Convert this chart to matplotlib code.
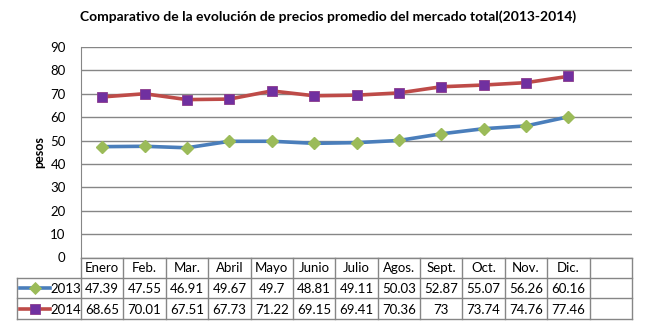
import matplotlib.pyplot as plt
from matplotlib.lines import Line2D

plt.rcParams['font.family'] = ['Lato', 'DejaVu Sans']

# DATA

meses = ["Enero", "Feb.", "Mar.", "Abril", "Mayo", "Junio", "Julio",
         "Agos.", "Sept.", "Oct.", "Nov.", "Dic."]
precios_2013 = [47.39, 47.55, 46.91, 49.67, 49.7, 48.81, 49.11,
                50.03, 52.87, 55.07, 56.26, 60.16]
precios_2014 = [68.65, 70.01, 67.51, 67.73, 71.22, 69.15, 69.41,
                70.36, 73, 73.74, 74.76, 77.46]
etiquetas_2013 = ["47.39", "47.55", "46.91", "49.67", "49.7", "48.81", "49.11",
                  "50.03", "52.87", "55.07", "56.26", "60.16"]
etiquetas_2014 = ["68.65", "70.01", "67.51", "67.73", "71.22", "69.15", "69.41",
                  "70.36", "73", "73.74", "74.76", "77.46"]
yticks = [0, 10, 20, 30, 40, 50, 60, 70, 80, 90]

W, H = 653, 324
grey = "#868686"
c13_line, c13_mark = "#4A7EBB", "#9BBB59"
c14_line, c14_mark = "#BE4B48", "#7030A0"

fig = plt.figure(figsize=(W / 100, H / 100), dpi=100)

# plot area (pixels)
left, right, top, bottom = 81, 632, 47, 257.5
ax = fig.add_axes([left / W, 1 - bottom / H, (right - left) / W, (bottom - top) / H])
n = len(meses) + 1  # extra empty column like the excel table
x = list(range(len(meses)))

ax.plot(x, precios_2013, color=c13_line, lw=2.6, marker="D", ms=6.5,
        mfc=c13_mark, mec=c13_mark, zorder=3)
ax.plot(x, precios_2014, color=c14_line, lw=2.6, marker="s", ms=7.5,
        mfc=c14_mark, mec="#8B3A8B", mew=0.6, zorder=3)

ax.set_xlim(-0.5, n - 0.5)
ax.set_ylim(0, 90)
ax.set_yticks(yticks)
ax.set_xticks([])
ax.grid(axis="y", color=grey, lw=1)
ax.set_axisbelow(True)
for s in ["top", "right", "bottom"]:
    ax.spines[s].set_visible(False)
ax.spines["left"].set_color(grey)
ax.tick_params(axis="y", length=0, pad=11, labelsize=9.5, colors="#000000")
ax.set_ylabel("pesos", fontsize=9, fontweight="bold", labelpad=4)

fig.text(328 / W, 1 - 17 / H, "Comparativo de la evolución de precios promedio del mercado total(2013-2014)",
         ha="center", va="center", fontsize=10, fontweight="bold")

# DATA TABLE (drawn in pixel coordinates)
tab = fig.add_axes([0, 0, 1, 1])
tab.set_xlim(0, W)
tab.set_ylim(H, 0)
tab.axis("off")

col_w = (right - left) / n
rows_y = [257.5, 277.5, 298, 319]
tab_left = 17

# horizontal lines
tab.plot([left, right], [rows_y[0], rows_y[0]], color=grey, lw=1)
for yy in rows_y[1:]:
    tab.plot([tab_left, right], [yy, yy], color=grey, lw=1)
# vertical lines
tab.plot([tab_left, tab_left], [rows_y[1], rows_y[3]], color=grey, lw=1)
for i in range(n + 1):
    xx = left + i * col_w
    tab.plot([xx, xx], [rows_y[0], rows_y[3]], color=grey, lw=1)

fs = 9.5
for i, m in enumerate(meses):
    cx = left + (i + 0.5) * col_w
    tab.text(cx, (rows_y[0] + rows_y[1]) / 2 + 1, m, ha="center", va="center", fontsize=fs)
    tab.text(cx, (rows_y[1] + rows_y[2]) / 2 + 1, etiquetas_2013[i], ha="center", va="center", fontsize=fs)
    tab.text(cx, (rows_y[2] + rows_y[3]) / 2 + 1, etiquetas_2014[i], ha="center", va="center", fontsize=fs)

# legend keys in the table
for (y0, y1), lc, mc, mec, mk, ms, lab in [
        ((rows_y[1], rows_y[2]), c13_line, c13_mark, c13_mark, "D", 6.5, "2013"),
        ((rows_y[2], rows_y[3]), c14_line, c14_mark, "#8B3A8B", "s", 7.5, "2014")]:
    yc = (y0 + y1) / 2
    tab.add_line(Line2D([20, 50], [yc, yc], color=lc, lw=2.6))
    tab.plot([35], [yc], marker=mk, ms=ms, mfc=mc, mec=mec, mew=0.6)
    tab.text(50, yc + 1, lab, ha="left", va="center", fontsize=fs)

fig.savefig("out.png", dpi=100)
